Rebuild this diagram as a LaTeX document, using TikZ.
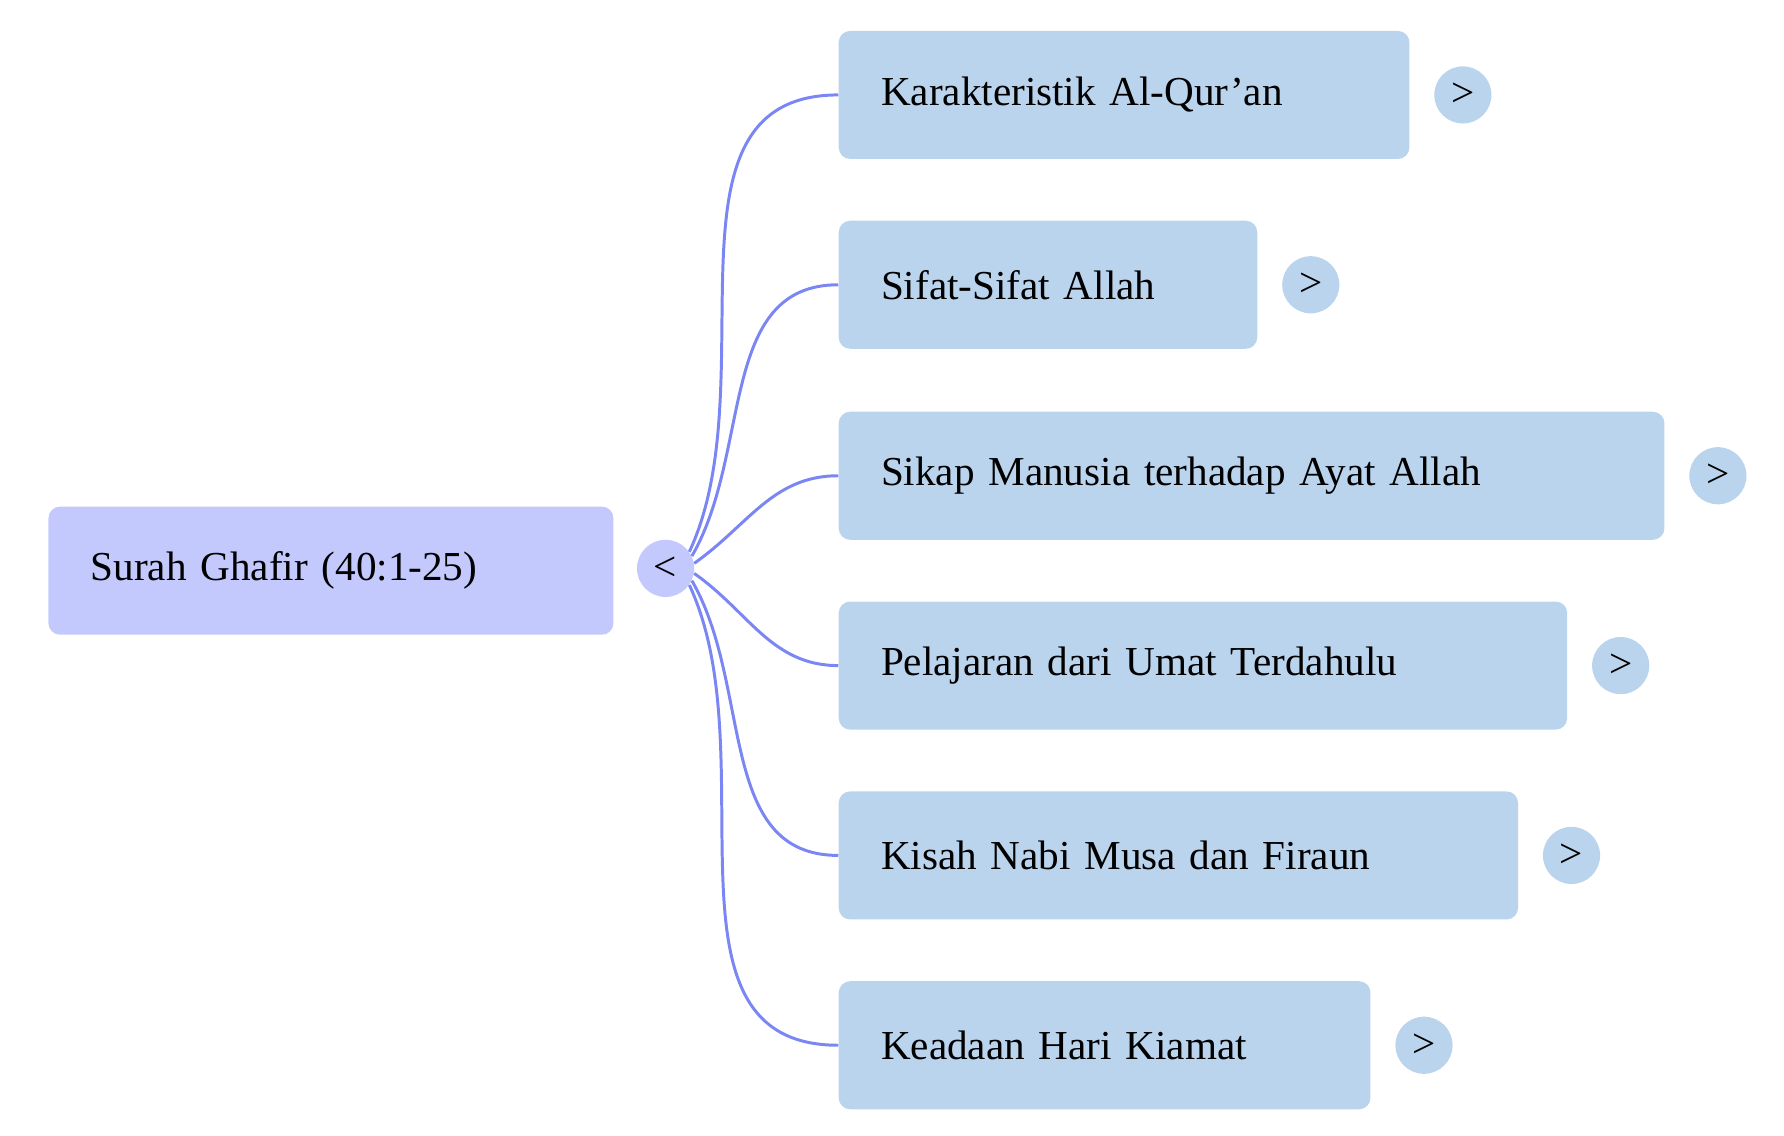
\documentclass[tikz,border=0pt]{standalone}
\usepackage{fontspec}
\setmainfont{Liberation Serif}
\usetikzlibrary{positioning}
\definecolor{rootfill}{HTML}{C3C9FD}
\definecolor{kidfill}{HTML}{BBD4EE}
\definecolor{link}{HTML}{7B86F5}
\tikzset{
  root/.style={fill=rootfill, rounded corners=5pt, anchor=west, minimum height=56pt,
    inner xsep=18.5pt, align=left, font=\fontsize{18}{20}\selectfont},
  kid/.style={fill=kidfill, rounded corners=5pt, anchor=west, minimum height=56pt,
    inner xsep=18.5pt, align=left, font=\fontsize{18}{20}\selectfont},
  tog/.style={circle, fill=#1, minimum size=25pt, inner sep=0pt,
    font=\fontsize{18}{20}\selectfont},
  link/.style={draw=link, line width=1.3pt}
}
\begin{document}
\begin{tikzpicture}[x=0.5pt,y=0.5pt]
  \useasboundingbox (0,0) rectangle (1560,-993);

  \node[root, text width=210pt] (surah) at (42,-499) {Surah Ghafir (40:1-25)};
  \node[tog=rootfill] (fold) at (582,-497) {<};

  \node[kid, text width=212.5pt] (karakter) at (733,-83) {Karakteristik Al-Qur'an};
  \node[kid, text width=146pt] (sifat) at (733,-249) {Sifat-Sifat Allah};
  \node[kid, text width=324pt] (sikap) at (733,-416) {Sikap Manusia terhadap Ayat Allah};
  \node[kid, text width=281.5pt] (pelajaran) at (733,-582) {Pelajaran dari Umat Terdahulu};
  \node[kid, text width=260pt] (kisah) at (733,-748) {Kisah Nabi Musa dan Firaun};
  \node[kid, text width=195.5pt] (kiamat) at (733,-914) {Keadaan Hari Kiamat};

  \foreach \kid in {karakter,sifat,sikap,pelajaran,kisah,kiamat}
    \node[tog=kidfill, right=10.5pt of \kid.east] (\kid-fold) {>};

  \draw[link] (fold.35) to[out=65,in=180] (karakter.west);
  \draw[link] (fold.25) to[out=60,in=180] (sifat.west);
  \draw[link] (fold.10) to[out=35,in=180] (sikap.west);
  \draw[link] (fold.-10) to[out=-35,in=180] (pelajaran.west);
  \draw[link] (fold.-25) to[out=-60,in=180] (kisah.west);
  \draw[link] (fold.-35) to[out=-65,in=180] (kiamat.west);
\end{tikzpicture}
\end{document}
